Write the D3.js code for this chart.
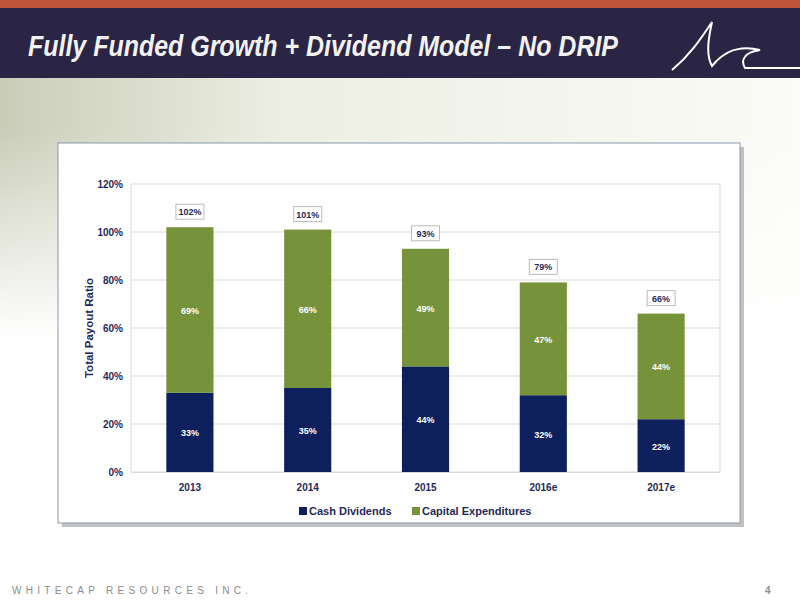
<!DOCTYPE html>
<html><head><meta charset="utf-8">
<script src="https://cdn.jsdelivr.net/npm/d3@7/dist/d3.min.js"></script>
<style>body{margin:0}svg{display:block;font-family:Arial,"Liberation Sans",sans-serif}</style>
</head><body><svg id="c" width="800" height="600"></svg>
<script>
const categories = ["2013","2014","2015","2016e","2017e"];
const cashDividends = [33,35,44,32,22];
const capex = [69,66,49,47,44];
const totals = [102,101,93,79,66];
const yTicks = [0,20,40,60,80,100,120];

const svg = d3.select("#c");
const defs = svg.append("defs");
const g1 = defs.append("linearGradient").attr("id","bg").attr("x1",0).attr("y1",0).attr("x2",1).attr("y2",0);
g1.append("stop").attr("offset","0%").attr("stop-color","#c9cdb8");
g1.append("stop").attr("offset","35%").attr("stop-color","#eceee2");
g1.append("stop").attr("offset","100%").attr("stop-color","#fbfbf7");
const m = defs.append("linearGradient").attr("id","fade").attr("x1",0).attr("y1",0).attr("x2",0).attr("y2",1);
m.append("stop").attr("offset","0%").attr("stop-color","#fff").attr("stop-opacity",0);
m.append("stop").attr("offset","100%").attr("stop-color","#fff").attr("stop-opacity",1);
svg.append("rect").attr("width",800).attr("height",600).attr("fill","#fff");
svg.append("rect").attr("y",78).attr("width",800).attr("height",260).attr("fill","url(#bg)");
svg.append("rect").attr("y",130).attr("width",800).attr("height",210).attr("fill","url(#fade)");
svg.append("rect").attr("width",800).attr("height",8).attr("fill","#c0543a");
svg.append("rect").attr("y",8).attr("width",800).attr("height",70).attr("fill","#2a2545");
svg.append("text").attr("x",28).attr("y",56).attr("fill","#f2f2f2").attr("font-size",29)
  .attr("font-weight","bold").attr("font-style","italic").attr("textLength",590).attr("lengthAdjust","spacingAndGlyphs")
  .text("Fully Funded Growth + Dividend Model – No DRIP");
svg.append("path").attr("d","M672,70 C690,55 700,40 712,22 C708,40 706,55 712,66 C725,50 740,45 760,50 C745,52 740,60 745,68 L800,68")
  .attr("fill","none").attr("stroke","#fff").attr("stroke-width",2);

// chart box
svg.append("rect").attr("x",62).attr("y",147).attr("width",682).attr("height",380).attr("fill","#999").attr("opacity",0.6);
svg.append("rect").attr("x",58).attr("y",143).attr("width",682).attr("height",380).attr("fill","#fff").attr("stroke","#8898aa");

const x = d3.scaleBand().domain(categories).range([131,720]).paddingInner(0.6).paddingOuter(0.3);
const y = d3.scaleLinear().domain([0,120]).range([472,184]);

svg.append("g").selectAll("line").data(yTicks).join("line")
  .attr("x1",131).attr("x2",720).attr("y1",d=>y(d)).attr("y2",d=>y(d)).attr("stroke","#d9d9d9");
svg.append("line").attr("x1",131).attr("x2",131).attr("y1",184).attr("y2",472).attr("stroke","#d9d9d9");
svg.append("line").attr("x1",720).attr("x2",720).attr("y1",184).attr("y2",472).attr("stroke","#d9d9d9");

const ya = svg.append("g").attr("transform","translate(131,0)")
  .call(d3.axisLeft(y).tickValues(yTicks).tickSize(0).tickPadding(8).tickFormat(d=>d+"%"));
ya.select(".domain").remove();
ya.selectAll("text").attr("font-size",10).attr("font-weight","bold").attr("fill","#1f2a5a").attr("font-family","Arial,Liberation Sans");
const xa = svg.append("g").attr("transform","translate(0,472)").call(d3.axisBottom(x).tickSize(0).tickPadding(12));
xa.select(".domain").attr("stroke","#d9d9d9");
xa.selectAll("text").attr("font-size",10).attr("font-weight","bold").attr("fill","#1f2a5a").attr("font-family","Arial,Liberation Sans");

const navy="#0d1f5c", green="#76933c";
svg.selectAll(".b1").data(categories).join("rect").attr("x",d=>x(d)).attr("width",x.bandwidth())
  .attr("y",(d,i)=>y(cashDividends[i])).attr("height",(d,i)=>y(0)-y(cashDividends[i])).attr("fill",navy);
svg.selectAll(".b2").data(categories).join("rect").attr("x",d=>x(d)).attr("width",x.bandwidth())
  .attr("y",(d,i)=>y(totals[i])).attr("height",(d,i)=>y(cashDividends[i])-y(totals[i])).attr("fill",green);

const lbl=(t,cx,cy,c)=>svg.append("text").attr("x",cx).attr("y",cy).attr("text-anchor","middle").attr("font-size",9)
  .attr("font-weight","bold").attr("fill",c).attr("font-family","Arial,Liberation Sans").text(t);
categories.forEach((c,i)=>{
  const cx=x(c)+x.bandwidth()/2;
  lbl(cashDividends[i]+"%",cx,(y(0)+y(cashDividends[i]))/2+4,"#fff");
  lbl(capex[i]+"%",cx,(y(cashDividends[i])+y(totals[i]))/2+4,"#fff");
  svg.append("rect").attr("x",cx-14).attr("y",y(totals[i])-23).attr("width",28).attr("height",15).attr("fill","#fff").attr("stroke","#bbb");
  lbl(totals[i]+"%",cx,y(totals[i])-12,"#1f2a5a");
});

// y title
svg.append("text").attr("transform","translate(93,328) rotate(-90)").attr("text-anchor","middle")
  .attr("font-size",11.5).attr("font-weight","bold").attr("fill","#1f2a5a").text("Total Payout Ratio");

// legend
svg.append("rect").attr("x",299).attr("y",507).attr("width",8).attr("height",8).attr("fill",navy);
svg.append("text").attr("x",309).attr("y",515).attr("font-size",11).attr("font-weight","bold").attr("fill","#1f2a5a").text("Cash Dividends");
svg.append("rect").attr("x",412).attr("y",507).attr("width",8).attr("height",8).attr("fill",green);
svg.append("text").attr("x",422).attr("y",515).attr("font-size",11).attr("font-weight","bold").attr("fill","#1f2a5a").text("Capital Expenditures");

// footer
svg.append("text").attr("x",12).attr("y",594).attr("font-size",10).attr("fill","#8c8c8c").attr("letter-spacing",4.3).text("WHITECAP RESOURCES INC.");
svg.append("text").attr("x",765).attr("y",594).attr("font-size",10).attr("font-weight","bold").attr("fill","#8c8c8c").text("4");
</script></body></html>
